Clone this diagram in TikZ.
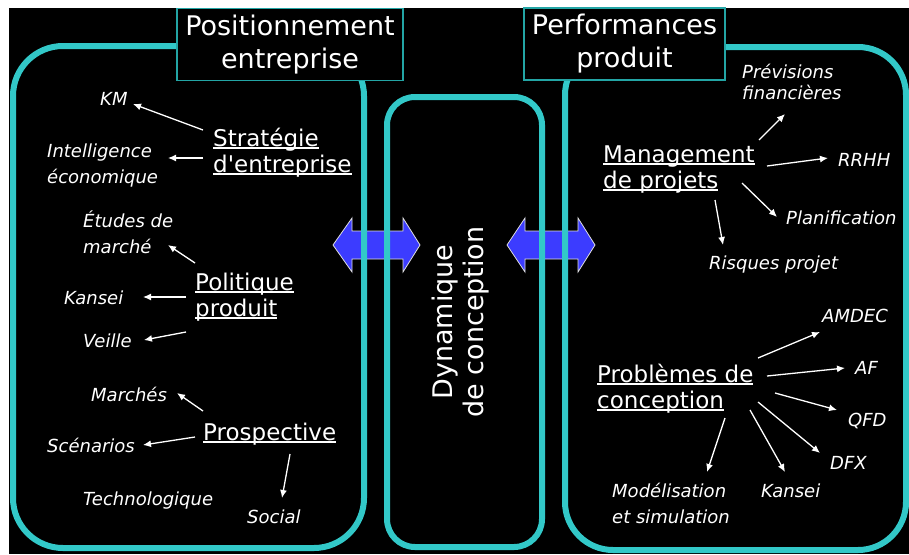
\documentclass[tikz,border=0pt]{standalone}
\usepackage{fontspec}
\setmainfont{DejaVu Sans}[Ligatures=TeXOff]
\usepackage{tikz}
\usetikzlibrary{calc,arrows.meta}
\definecolor{tealc}{RGB}{50,200,200}
\definecolor{tealdark}{RGB}{35,165,165}
\definecolor{arrowblue}{RGB}{60,60,255}
\newcommand\ulword[1]{\setbox0\hbox{#1}\rlap{\rule[-2.8pt]{\wd0}{1.8pt}}\box0}
\tikzset{
  panel/.style={draw=tealc, line width=6pt},
  titlebox/.style={draw=tealdark, line width=1.2pt, fill=black, text=white, align=center, minimum height=72pt, font=\fontsize{27}{33}\selectfont},
  head/.style={text=white, align=left, anchor=base west, inner sep=0pt, font=\fontsize{23}{26}\selectfont},
  item/.style={text=white, align=left, anchor=base west, inner sep=0pt, font=\fontsize{18}{26}\selectfont\itshape},
  itemarrow/.style={draw=white, line width=1.3pt, -{Latex[length=8pt,width=7pt]}},
  dblarrow/.style={fill=arrowblue, draw=white!75!gray, line width=0.8pt}
}

\begin{document}
\begin{tikzpicture}[x=1pt,y=-1pt]
\useasboundingbox (0,0) rectangle (909,554);
\fill[white] (0,0) rectangle (909,554);
\fill[black] (9,8) rectangle (909,554);
\draw[dblarrow] (333,245) -- (352,218) -- (352,231) -- (403,231) -- (403,218) -- (420,245) -- (403,272) -- (403,259) -- (352,259) -- (352,272) -- cycle;
\draw[dblarrow] (507,245) -- (525,218) -- (525,231) -- (578,231) -- (578,218) -- (595,245) -- (578,272) -- (578,259) -- (525,259) -- (525,272) -- cycle;
\draw[panel, rounded corners=50pt] (13,46) rectangle (364,548);
\draw[panel, rounded corners=28pt] (387,97) rectangle (542,547);
\draw[panel, rounded corners=48pt] (565,47) rectangle (906,550);
\node[titlebox, minimum width=226pt] (posit) at (290,44.5) {Positionnement\\entreprise};
\node[titlebox, minimum width=201pt] (perf) at (624.5,44) {Performances\\produit};
\node[rotate=90, text=white, align=center, font=\fontsize{27}{31}\selectfont] (dyn) at (461,322) {Dynamique\\de conception};

\node[head] (strat) at (213,172) {\ulword{Stratégie}\\\ulword{d'entreprise}};
\node[head] (polit) at (195,316) {\ulword{Politique}\\\ulword{produit}};
\node[head] (prosp) at (203,440) {\ulword{Prospective}};
\node[item] (km) at (100,105) {KM};
\node[item] (intel) at (47,183) {Intelligence\\économique};
\node[item] (etudes) at (83,253) {Études de\\marché};
\node[item] (kansL) at (64,304) {Kansei};
\node[item] (veille) at (83,347) {Veille};
\node[item] (marches) at (91,401) {Marchés};
\node[item] (scen) at (47,452) {Scénarios};
\node[item] (techno) at (83,505) {Technologique};
\node[item] (social) at (247,523) {Social};

\node[head] (mgmt) at (603,188) {\ulword{Management}\\\ulword{de projets}};
\node[head] (probl) at (597,408) {\ulword{Problèmes de}\\\ulword{conception}};
\node[item, font=\fontsize{18}{21}\selectfont\itshape] (previs) at (742,99) {Prévisions\\financières};
\node[item] (rrhh) at (838,166) {RRHH};
\node[item] (planif) at (786,224) {Planification};
\node[item] (risques) at (709,269) {Risques projet};
\node[item] (amdec) at (822,322) {AMDEC};
\node[item] (af) at (855,374) {AF};
\node[item] (qfd) at (848,426) {QFD};
\node[item] (dfx) at (830,469) {DFX};
\node[item] (kansR) at (761,497) {Kansei};
\node[item] (modelis) at (612,523) {Modélisation\\et simulation};

\draw[itemarrow] ($(strat.base west)+(-10,-42)$) -- ($(km.base west)+(33,-1)$);
\draw[itemarrow] ($(strat.base west)+(-10,-14)$) -- ($(intel.base west)+(121,-25)$);
\draw[itemarrow] ($(polit.base west)+(0,-53)$) -- ($(etudes.base west)+(85,-8)$);
\draw[itemarrow] ($(polit.base west)+(-9,-19)$) -- ($(kansL.base west)+(79,-7)$);
\draw[itemarrow] ($(polit.base west)+(-9,16)$) -- ($(veille.base west)+(61,-7)$);
\draw[itemarrow] ($(prosp.base west)+(0,-29)$) -- ($(marches.base west)+(86,-8)$);
\draw[itemarrow] ($(prosp.base west)+(-8,-3)$) -- ($(scen.base west)+(96,-7)$);
\draw[itemarrow] ($(prosp.base west)+(87,14)$) -- ($(social.base west)+(35,-25)$);

\draw[itemarrow] ($(mgmt.base west)+(156,-48)$) -- ($(previs.base west)+(43,15)$);
\draw[itemarrow] ($(mgmt.base west)+(164,-22)$) -- ($(rrhh.base west)+(-10,-8)$);
\draw[itemarrow] ($(mgmt.base west)+(139,-5)$) -- ($(planif.base west)+(-9,-7)$);
\draw[itemarrow] ($(mgmt.base west)+(112,12)$) -- ($(risques.base west)+(14,-24)$);
\draw[itemarrow] ($(probl.base west)+(161,-50)$) -- ($(amdec.base west)+(-2,10)$);
\draw[itemarrow] ($(probl.base west)+(170,-32)$) -- ($(af.base west)+(-10,-6)$);
\draw[itemarrow] ($(probl.base west)+(178,-15)$) -- ($(qfd.base west)+(-11,-16)$);
\draw[itemarrow] ($(probl.base west)+(161,-6)$) -- ($(dfx.base west)+(-10,-16)$);
\draw[itemarrow] ($(probl.base west)+(153,2)$) -- ($(kansR.base west)+(24,-25)$);
\draw[itemarrow] ($(probl.base west)+(128,10)$) -- ($(modelis.base west)+(95,-51)$);
\end{tikzpicture}
\end{document}
